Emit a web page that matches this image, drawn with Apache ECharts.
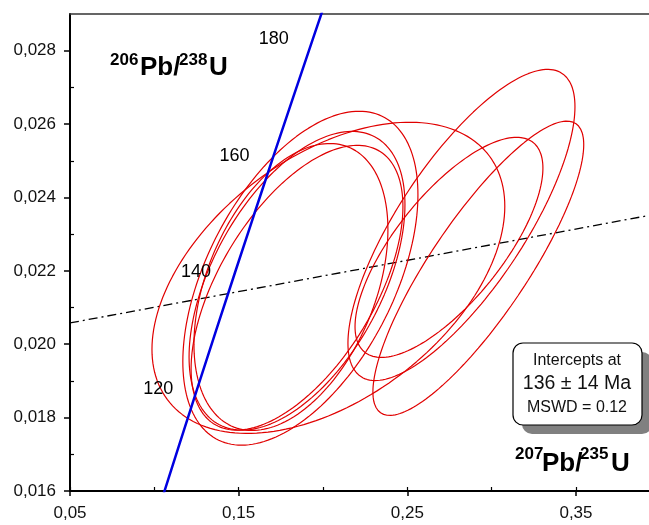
<!DOCTYPE html>
<html>
<head>
<meta charset="utf-8">
<script src="https://cdn.jsdelivr.net/npm/echarts@6/dist/echarts.min.js"></script>
<style>
html,body{margin:0;padding:0;background:#fff;}
#c{width:649px;height:525px;}
</style>
</head>
<body>
<div id="c"></div>
<script>
// ---- data ----
const xTickLabels = [0.05, 0.15, 0.25, 0.35];
const xMinorTicks = [0.05, 0.10, 0.15, 0.20, 0.25, 0.30, 0.35];
const yTickLabels = [0.016, 0.018, 0.020, 0.022, 0.024, 0.026, 0.028];
const yMinorTicks = [0.017, 0.019, 0.021, 0.023, 0.025, 0.027];

// concordia points: age (Ma), 207Pb/235U, 206Pb/238U
const concAges = [100, 110, 120, 130, 140, 150, 160, 170, 180, 190];
const concX = [0.10350, 0.11442, 0.12545, 0.13659, 0.14784, 0.15920, 0.17067, 0.18226, 0.19396, 0.20577];
const concY = [0.015633, 0.017210, 0.018789, 0.020371, 0.021955, 0.023542, 0.025131, 0.026722, 0.028316, 0.029912];
const concLabelAges = [120, 140, 160, 180];

// discordia (regression line) end points
const discX = [0.05, 0.3933];
const discY = [0.02058, 0.02351];

// error ellipses: centre, half-widths, correlation
const ellCX  = [0.2032, 0.1866, 0.1846, 0.1810, 0.1846, 0.2747, 0.2821, 0.2921];
const ellCY  = [0.02181, 0.02180, 0.02173, 0.02156, 0.02154, 0.02264, 0.02325, 0.02207];
const ellSX  = [0.1046, 0.0697, 0.0640, 0.0575, 0.0628, 0.0557, 0.0673, 0.0625];
const ellSY  = [0.00424, 0.00455, 0.00407, 0.00391, 0.00388, 0.00300, 0.00424, 0.00401];
const ellRho = [0.46, 0.50, 0.51, 0.40, 0.57, 0.72, 0.76, 0.84];

// ---- build ----
const fmtX = v => v.toFixed(2).replace('.', ',');
const fmtY = v => v.toFixed(3).replace('.', ',');
const FONT = "'Liberation Sans', Arial, sans-serif";

const series = [];
for (let i = 0; i < ellCX.length; i++) {
  const pts = [];
  const r = ellRho[i], q = Math.sqrt(1 - r * r);
  for (let k = 0; k <= 180; k++) {
    const t = k / 180 * 2 * Math.PI;
    pts.push([ellCX[i] + ellSX[i] * Math.cos(t),
              ellCY[i] + ellSY[i] * (r * Math.cos(t) + q * Math.sin(t))]);
  }
  series.push({
    type: 'line', data: pts, showSymbol: false, smooth: false, clip: true,
    lineStyle: { color: '#e00000', width: 1.2 }, silent: true, z: 3
  });
}
series.push({
  type: 'line', data: discX.map((x, i) => [x, discY[i]]), showSymbol: false, clip: true,
  lineStyle: { color: '#000', width: 1.3, type: [9, 4, 2, 4] }, z: 2
});
series.push({
  type: 'line', data: concX.map((x, i) => [x, concY[i]]), showSymbol: false, clip: true,
  lineStyle: { color: '#0000e0', width: 2.5 }, z: 4
});
series.push({
  type: 'scatter', symbolSize: 0, clip: false, z: 5,
  itemStyle: { opacity: 1 },
  data: concLabelAges.map(a => {
    const i = concAges.indexOf(a);
    return { value: [concX[i], concY[i]], name: String(a) };
  }),
  label: { show: true, position: 'left', distance: 24, formatter: p => p.name, opacity: 1,
           fontSize: 18, color: '#000', fontFamily: FONT, textBorderWidth: 0 }
});

const chart = echarts.init(document.getElementById('c'), null, { renderer: 'canvas' });
chart.setOption({
  animation: false,
  backgroundColor: '#fff',
  grid: { left: 70, right: 0, top: 14, bottom: 34, containLabel: false },
  xAxis: [
    { type: 'value', min: 0.05, max: 0.3933, position: 'bottom',
      axisLine: { onZero: false, lineStyle: { color: '#000', width: 2 } },
      axisTick: { customValues: xTickLabels, length: 5, lineStyle: { color: '#000', width: 1.5 } },
      axisLabel: { customValues: xTickLabels, formatter: fmtX, margin: 14, fontSize: 17, color: '#111', fontFamily: FONT },
      splitLine: { show: false } },
    { type: 'value', min: 0.05, max: 0.3933, position: 'bottom',
      axisLine: { show: false, onZero: false },
      axisTick: { inside: true, customValues: xMinorTicks, length: 4, lineStyle: { color: '#000', width: 1.2 } },
      axisLabel: { show: false }, splitLine: { show: false } },
    { type: 'value', min: 0.05, max: 0.3933, position: 'top',
      axisLine: { onZero: false, lineStyle: { color: '#333', width: 1.5 } },
      axisTick: { show: false }, axisLabel: { show: false }, splitLine: { show: false } }
  ],
  yAxis: [
    { type: 'value', min: 0.016, max: 0.029, position: 'left',
      axisLine: { onZero: false, lineStyle: { color: '#000', width: 2 } },
      axisTick: { customValues: yTickLabels, length: 6, lineStyle: { color: '#000', width: 1.5 } },
      axisLabel: { customValues: yTickLabels, formatter: fmtY, margin: 14, fontSize: 17, color: '#111', fontFamily: FONT },
      splitLine: { show: false } },
    { type: 'value', min: 0.016, max: 0.029, position: 'left',
      axisLine: { show: false, onZero: false },
      axisTick: { inside: true, customValues: yMinorTicks, length: 4, lineStyle: { color: '#000', width: 1.2 } },
      axisLabel: { show: false }, splitLine: { show: false } }
  ],
  series: series,
  graphic: [
    { type: 'text', left: 110, top: 52, z: 10, style: { text: '206', font: "bold 17px " + FONT, fill: '#000' } },
    { type: 'text', left: 140, top: 55, z: 10, style: { text: 'Pb/', font: "bold 26px " + FONT, fill: '#000' } },
    { type: 'text', left: 179, top: 52, z: 10, style: { text: '238', font: "bold 17px " + FONT, fill: '#000' } },
    { type: 'text', left: 209, top: 55, z: 10, style: { text: 'U', font: "bold 26px " + FONT, fill: '#000' } },

    { type: 'text', left: 515, top: 446, z: 10, style: { text: '207', font: "bold 17px " + FONT, fill: '#000' } },
    { type: 'text', left: 542, top: 451, z: 10, style: { text: 'Pb/', font: "bold 26px " + FONT, fill: '#000' } },
    { type: 'text', left: 580, top: 446, z: 10, style: { text: '235', font: "bold 17px " + FONT, fill: '#000' } },
    { type: 'text', left: 611, top: 451, z: 10, style: { text: 'U', font: "bold 26px " + FONT, fill: '#000' } },

    { type: 'rect', z: 10, shape: { x: 522, y: 352, width: 130, height: 82, r: 10 }, style: { fill: '#808080' } },
    { type: 'rect', z: 11, shape: { x: 513, y: 343, width: 129, height: 82, r: 10 }, style: { fill: '#fff', stroke: '#000', lineWidth: 1.2 } },
    { type: 'text', z: 12, x: 577, y: 361, style: { text: 'Intercepts at', font: "16px " + FONT, fill: '#111', textAlign: 'center', textVerticalAlign: 'middle' } },
    { type: 'text', z: 12, x: 577, y: 384, style: { text: '136 ± 14 Ma', font: "19.5px " + FONT, fill: '#111', textAlign: 'center', textVerticalAlign: 'middle' } },
    { type: 'text', z: 12, x: 577, y: 408, style: { text: 'MSWD = 0.12', font: "16px " + FONT, fill: '#111', textAlign: 'center', textVerticalAlign: 'middle' } }
  ]
});
</script>
</body>
</html>
